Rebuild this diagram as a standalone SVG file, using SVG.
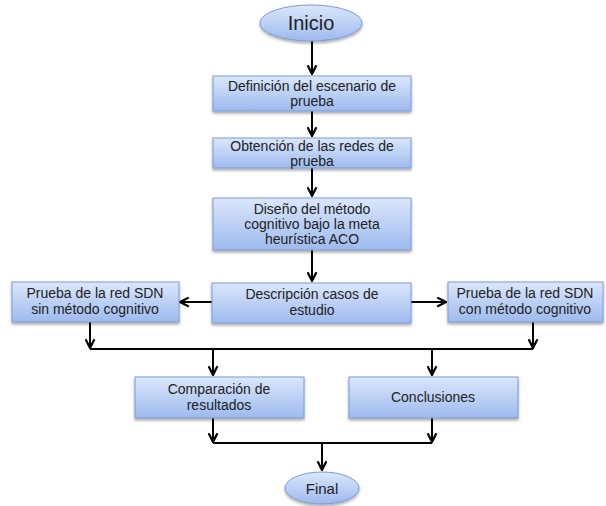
<svg xmlns="http://www.w3.org/2000/svg" width="606" height="506" viewBox="0 0 606 506">
  <defs>
    <linearGradient id="boxFill" x1="0" y1="0" x2="0" y2="1">
      <stop offset="0" stop-color="#dbe7fb"/>
      <stop offset="1" stop-color="#9dbaee"/>
    </linearGradient>
    <filter id="shadow" x="-10%" y="-10%" width="120%" height="140%">
      <feDropShadow dx="0" dy="2" stdDeviation="1.5" flood-color="#000" flood-opacity="0.35"/>
    </filter>
    <marker id="arrow" viewBox="0 0 10 10" refX="9" refY="5" markerWidth="5.5" markerHeight="5.5" orient="auto" markerUnits="strokeWidth">
      <path d="M1,1 L9,5 L1,9" fill="none" stroke="#000" stroke-width="2"/>
    </marker>
  </defs>
  <style>
    .box { fill: url(#boxFill); stroke: #7b9cd6; stroke-width: 1; filter: url(#shadow); }
    .term { fill: url(#boxFill); stroke: #7b9cd6; stroke-width: 1; filter: url(#shadow); }
    .lbl { font-family: "Liberation Sans", Arial, sans-serif; font-size: 14px; fill: #222; text-anchor: middle; }
    .big { font-size: 20px; }
    .mid { font-size: 15px; }
    .edge { fill: none; stroke: #000; stroke-width: 2; }
    .arr { marker-end: url(#arrow); }
  </style>
  <rect width="606" height="506" fill="#fff"/>

  <g id="connectors">
    <path class="edge arr" d="M312,41 V74"/>
    <path class="edge arr" d="M312,111 V136"/>
    <path class="edge arr" d="M312,168 V196"/>
    <path class="edge arr" d="M312,250 V281"/>
    <path class="edge arr" d="M212,302 H180"/>
    <path class="edge arr" d="M411,302 H446"/>
    <path class="edge arr" d="M90,322 V348"/>
    <path class="edge arr" d="M533,322 V348"/>
    <path class="edge" d="M90,349 H533"/>
    <path class="edge arr" d="M213,349 V375"/>
    <path class="edge arr" d="M432,349 V375"/>
    <path class="edge arr" d="M213,418 V442"/>
    <path class="edge arr" d="M432,418 V442"/>
    <path class="edge" d="M213,443 H432"/>
    <path class="edge arr" d="M322,443 V470"/>
  </g>

  <g id="inicio">
    <ellipse class="term" cx="311" cy="23" rx="51" ry="18"/>
    <text class="lbl big" x="311" y="30">Inicio</text>
  </g>

  <g id="definicion">
    <rect class="box" x="213" y="76" width="198" height="35"/>
    <text class="lbl" x="312" y="91">Definición del escenario de</text>
    <text class="lbl" x="312" y="106">prueba</text>
  </g>

  <g id="obtencion">
    <rect class="box" x="213" y="138" width="198" height="30"/>
    <text class="lbl" x="312" y="151">Obtención de las redes de</text>
    <text class="lbl" x="312" y="166">prueba</text>
  </g>

  <g id="diseno">
    <rect class="box" x="213" y="198" width="198" height="52"/>
    <text class="lbl" x="312" y="214">Diseño del método</text>
    <text class="lbl" x="312" y="229">cognitivo bajo la meta</text>
    <text class="lbl" x="312" y="244">heurística ACO</text>
  </g>

  <g id="descripcion">
    <rect class="box" x="212" y="283" width="199" height="40"/>
    <text class="lbl" x="312" y="299">Descripción casos de</text>
    <text class="lbl" x="312" y="315">estudio</text>
  </g>

  <g id="sin-metodo">
    <rect class="box" x="12" y="282" width="167" height="40"/>
    <text class="lbl" x="95" y="298">Prueba de la red SDN</text>
    <text class="lbl" x="95" y="314">sin método cognitivo</text>
  </g>

  <g id="con-metodo">
    <rect class="box" x="448" y="282" width="155" height="40"/>
    <text class="lbl" x="525" y="298">Prueba de la red SDN</text>
    <text class="lbl" x="525" y="314">con método cognitivo</text>
  </g>

  <g id="comparacion">
    <rect class="box" x="135" y="377" width="169" height="41"/>
    <text class="lbl" x="219" y="394">Comparación de</text>
    <text class="lbl" x="219" y="410">resultados</text>
  </g>

  <g id="conclusiones">
    <rect class="box" x="349" y="377" width="169" height="41"/>
    <text class="lbl" x="433" y="402">Conclusiones</text>
  </g>

  <g id="final">
    <ellipse class="term" cx="322" cy="488" rx="37" ry="16"/>
    <text class="lbl mid" x="322" y="494">Final</text>
  </g>
</svg>
